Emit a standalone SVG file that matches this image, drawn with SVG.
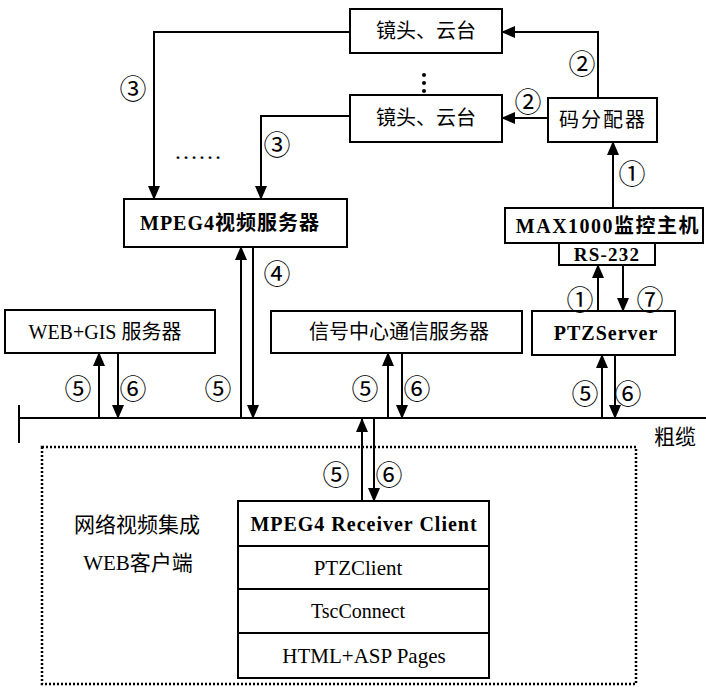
<svg xmlns="http://www.w3.org/2000/svg" width="706" height="688" viewBox="0 0 706 688">
  <defs>
    <marker id="ah" viewBox="0 0 14 12" refX="13" refY="6" markerWidth="14" markerHeight="12" markerUnits="userSpaceOnUse" orient="auto">
      <path d="M0,0 L14,6 L0,12 Z" fill="#000"/>
    </marker>
    <style>
      .box { fill: #fff; stroke: #000; stroke-width: 2; }
      .dotbox { fill: none; stroke: #000; stroke-width: 2.5; stroke-dasharray: 2 2; }
      .wire { fill: none; stroke: #000; stroke-width: 2; }
      .arr { fill: none; stroke: #000; stroke-width: 2; marker-end: url(#ah); }
      .t { font-family: "Liberation Serif", "Noto Sans CJK SC", serif; font-size: 20px; fill: #000; text-anchor: middle; dominant-baseline: central; }
      .b { font-weight: bold; }
      .n { font-family: "Noto Sans CJK SC", "DejaVu Sans", sans-serif; font-size: 27px; fill: #000; text-anchor: middle; dominant-baseline: central; }
    </style>
  </defs>

  <rect width="706" height="688" fill="#fff"/>

  <!-- bus (thick cable) -->
  <g id="bus">
    <line class="wire" x1="19" y1="418" x2="706" y2="418"/>
    <line class="wire" x1="19" y1="405" x2="19" y2="443"/>
    <text class="t" x="675" y="437" style="font-size:21px">粗缆</text>
  </g>

  <!-- nodes -->
  <g id="cam1">
    <rect class="box" x="350" y="9" width="152" height="44"/>
    <text class="t" x="426" y="31">镜头、云台</text>
  </g>
  <g id="cam2">
    <rect class="box" x="350" y="95" width="152" height="47"/>
    <text class="t" x="426" y="118">镜头、云台</text>
  </g>
  <g id="cam-more">
    <circle cx="424" cy="75" r="2"/>
    <circle cx="424" cy="83" r="2"/>
    <circle cx="424" cy="91" r="2"/>
  </g>
  <g id="distributor">
    <rect class="box" x="548" y="98" width="109" height="44"/>
    <text class="t" x="603" y="120" style="letter-spacing:2px">码分配器</text>
  </g>
  <g id="mpeg4-server">
    <rect class="box" x="124" y="199" width="223" height="48"/>
    <text class="t b" x="230" y="223" style="letter-spacing:1px">MPEG4视频服务器</text>
  </g>
  <g id="server-more">
    <text class="t" x="198" y="151" style="font-size:24px">……</text>
  </g>
  <g id="max1000">
    <rect class="box" x="505" y="208" width="198" height="35"/>
    <text class="t b" x="608" y="226" style="letter-spacing:1.5px">MAX1000监控主机</text>
  </g>
  <g id="rs232">
    <rect class="box" x="559" y="243" width="96" height="22"/>
    <text class="t b" x="607" y="254" style="font-size:19px;letter-spacing:1.2px">RS-232</text>
  </g>
  <g id="webgis">
    <rect class="box" x="5" y="310" width="210" height="43"/>
    <text class="t" x="105" y="332">WEB+GIS 服务器</text>
  </g>
  <g id="signal-center">
    <rect class="box" x="271" y="311" width="251" height="42"/>
    <text class="t" x="399" y="332">信号中心通信服务器</text>
  </g>
  <g id="ptzserver">
    <rect class="box" x="532" y="311" width="143" height="44"/>
    <text class="t b" x="606" y="333" style="letter-spacing:1px">PTZServer</text>
  </g>
  <g id="web-client">
    <rect class="dotbox" x="42" y="447" width="594" height="237"/>
    <text class="t" x="137" y="525" style="font-size:21px">网络视频集成</text>
    <text class="t" x="138" y="563" style="font-size:21px">WEB客户端</text>
    <rect class="box" x="238" y="501" width="251" height="177"/>
    <line class="wire" x1="238" y1="546" x2="489" y2="546"/>
    <line class="wire" x1="238" y1="589" x2="489" y2="589"/>
    <line class="wire" x1="238" y1="633" x2="489" y2="633"/>
    <text class="t b" x="364" y="524" style="letter-spacing:1px">MPEG4 Receiver Client</text>
    <text class="t" x="358" y="568" style="font-size:21px">PTZClient</text>
    <text class="t" x="358" y="611">TscConnect</text>
    <text class="t" x="364" y="656" style="font-size:21px">HTML+ASP Pages</text>
  </g>

  <!-- connectors -->
  <g id="connectors">
    <path class="arr" d="M598,98 V32 H502"/>
    <path class="arr" d="M548,118 H502"/>
    <path class="arr" d="M613,208 V142"/>
    <path class="arr" d="M350,32 H154 V199"/>
    <path class="arr" d="M350,116 H261 V199"/>
    <path class="arr" d="M598,311 V265"/>
    <path class="arr" d="M623,265 V311"/>
    <path class="arr" d="M241,418 V247"/>
    <path class="arr" d="M253,247 V418"/>
    <path class="arr" d="M99,418 V353"/>
    <path class="arr" d="M118,353 V418"/>
    <path class="arr" d="M388,418 V353"/>
    <path class="arr" d="M402,353 V418"/>
    <path class="arr" d="M602,418 V355"/>
    <path class="arr" d="M615,355 V418"/>
    <path class="arr" d="M362,501 V419"/>
    <path class="arr" d="M374,418 V501"/>
  </g>

  <!-- step numbers -->
  <g id="steps">
    <text class="n" x="582" y="62">②</text>
    <text class="n" x="528" y="100">②</text>
    <text class="n" x="632" y="172">①</text>
    <text class="n" x="133" y="87">③</text>
    <text class="n" x="277" y="143">③</text>
    <text class="n" x="277" y="272">④</text>
    <text class="n" x="78" y="387">⑤</text>
    <text class="n" x="133" y="387">⑥</text>
    <text class="n" x="218" y="387">⑤</text>
    <text class="n" x="365" y="387">⑤</text>
    <text class="n" x="417" y="387">⑥</text>
    <text class="n" x="580" y="298">①</text>
    <text class="n" x="650" y="298">⑦</text>
    <text class="n" x="585" y="392">⑤</text>
    <text class="n" x="628" y="392">⑥</text>
    <text class="n" x="336" y="473">⑤</text>
    <text class="n" x="389" y="473">⑥</text>
  </g>
</svg>
